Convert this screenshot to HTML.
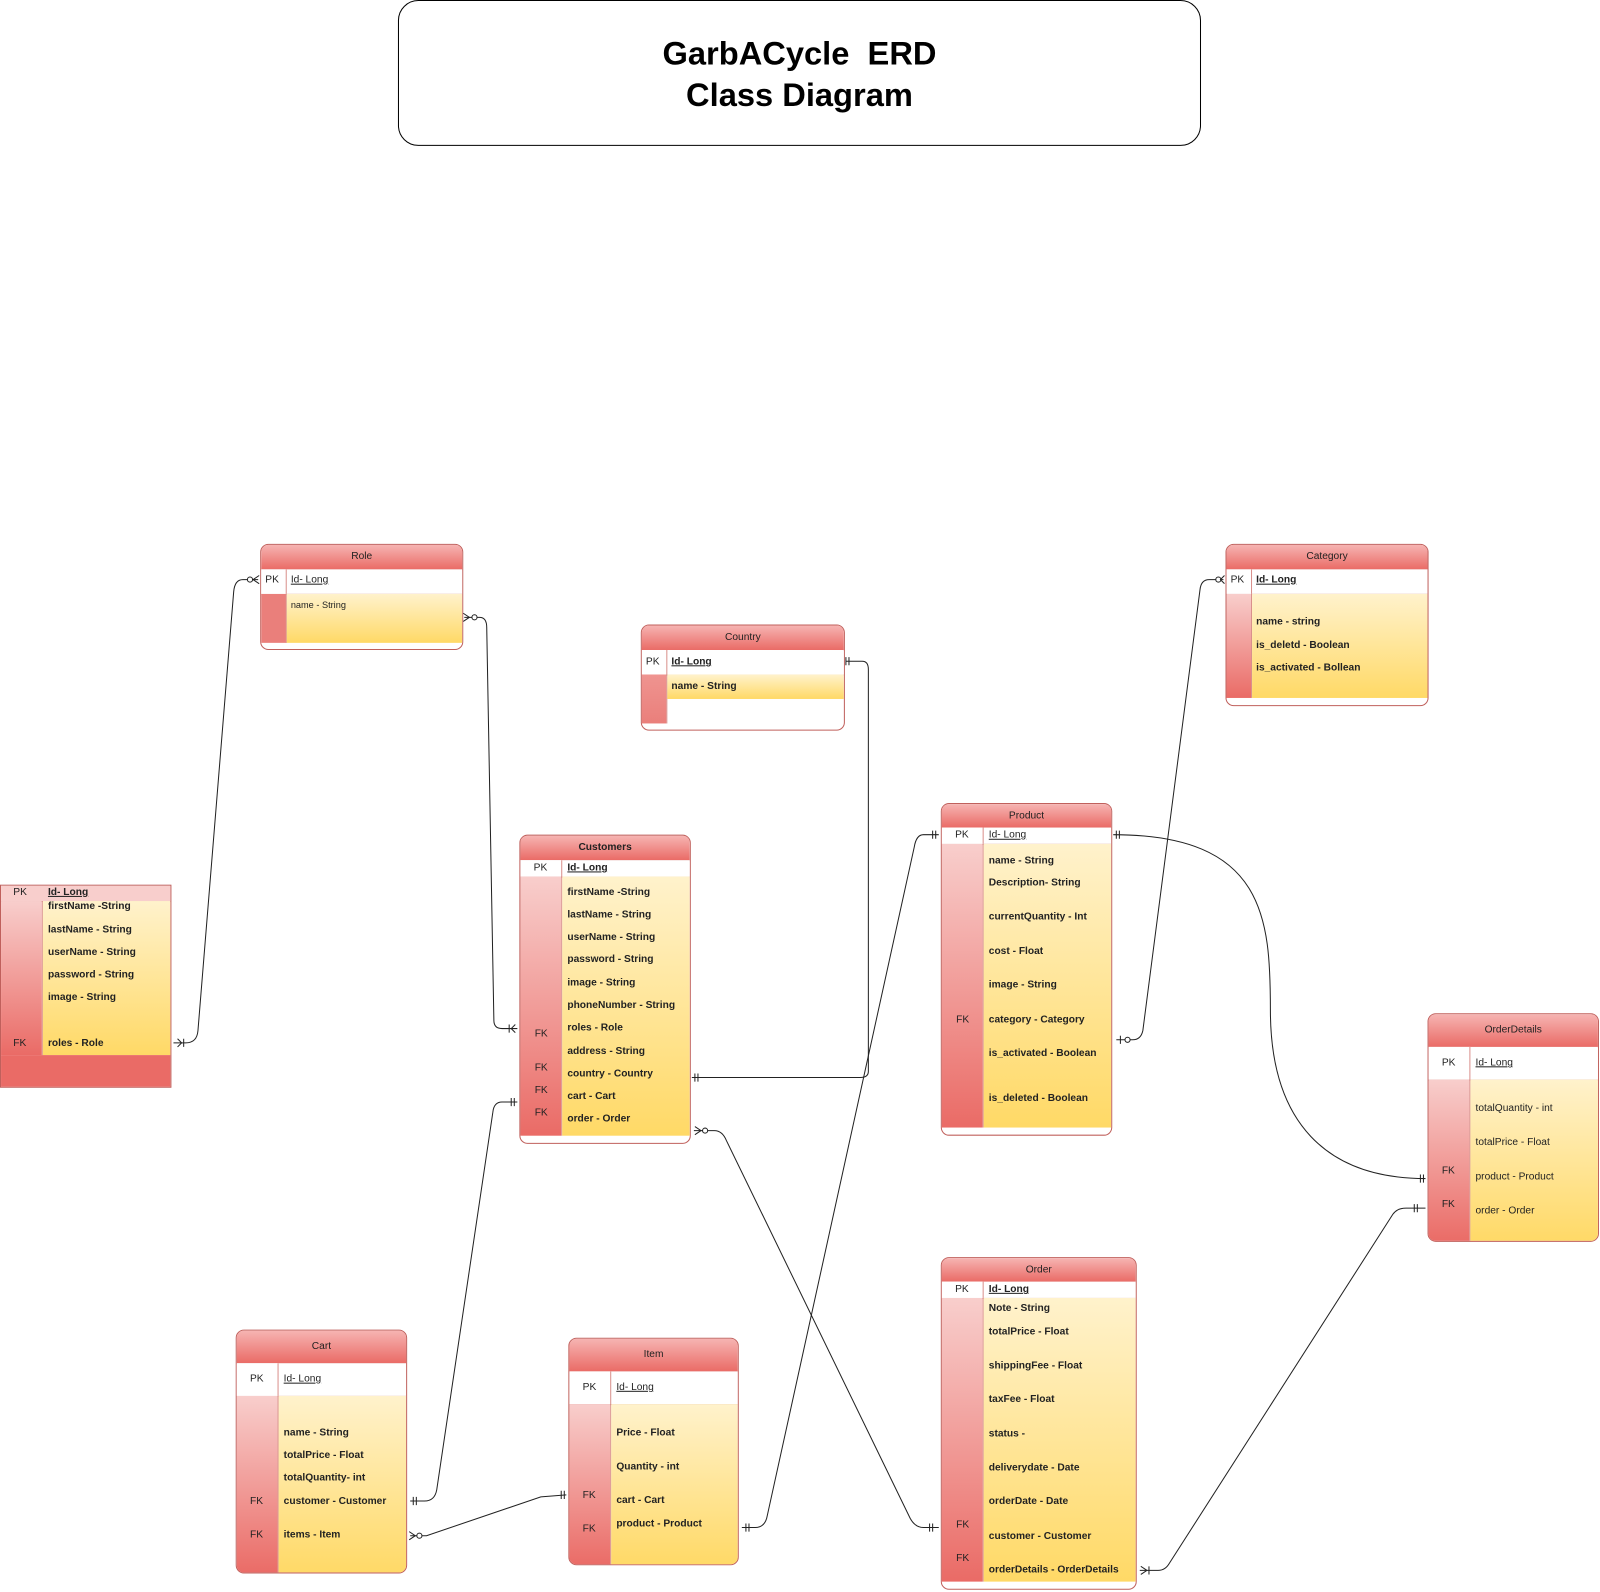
<!DOCTYPE html>
<html><head><meta charset="utf-8"><style>
body{margin:0;width:1600px;height:1591px;background:#fff;position:relative;overflow:hidden;font-family:"Liberation Sans",Arial,sans-serif}
#w{position:absolute;left:0;top:0;width:1568px;height:1560px;transform:scale(1.0204);transform-origin:0 0}
.t{position:absolute;border:1px solid #c0605c;border-radius:8px;background:#fff;overflow:hidden;box-sizing:border-box}
.h{position:absolute;left:0;right:0;top:0;background:linear-gradient(#f6b4b2,#ea6b66);border-bottom:1px solid #c0605c;text-align:center;font-size:10px;color:#222}
.p{position:absolute;left:0;right:0;background:#fff;border-bottom:1px solid #c0605c}
.l{position:absolute;left:0;background:linear-gradient(#f8cecc,#ea6b66);border-right:1px solid #d9908c}
.r{position:absolute;right:0;background:linear-gradient(#fff2cc,#ffd966)}
.x{position:absolute;font-size:10px;font-weight:bold;white-space:nowrap;line-height:12px;color:#222}
.u{text-decoration:underline}
.title{position:absolute;left:390px;top:0;width:787px;height:143px;border:1px solid #000;border-radius:20px;box-sizing:border-box;text-align:center;font-weight:bold;font-size:32px;line-height:41px;padding-top:31px}
svg{position:absolute;left:0;top:0}
</style></head><body><div id="w">
<div class="title">GarbACycle &nbsp;ERD<br>Class Diagram</div>

<!-- Role -->
<div class="t" style="left:255px;top:533px;width:199px;height:104px">
<div class="h" style="height:24px;line-height:24px">Role</div>
<div class="p" style="top:24px;height:24px"></div>
<div class="l" style="top:48px;height:48px;width:24px;background:#ea7f7b"></div>
<div class="r" style="top:48px;height:48px;left:25px"></div>
<div class="l" style="top:24px;height:24px;width:24px;background:#fff"></div>
<span class="x" style="left:4px;top:29px;font-weight:normal">PK</span>
<span class="x u" style="left:29px;top:29px;font-weight:normal">Id- Long</span>
<span class="x" style="left:29px;top:53px;font-weight:normal;font-size:9px">name - String</span>
</div>

<!-- Country -->
<div class="t" style="left:628px;top:612px;width:200px;height:104px">
<div class="h" style="height:24px;line-height:24px">Country</div>
<div class="p" style="top:24px;height:24px"></div>
<div class="l" style="top:24px;height:24px;width:24px;background:#fff"></div>
<div class="l" style="top:48px;height:48px;width:24px;background:linear-gradient(#ef9490,#ea7f7b)"></div>
<div class="r" style="top:48px;height:24px;left:25px"></div>
<span class="x" style="left:4px;top:30px;font-weight:normal">PK</span>
<span class="x u" style="left:29px;top:30px">Id- Long</span>
<span class="x" style="left:29px;top:54px">name - String</span>
</div>

<!-- Category -->
<div class="t" style="left:1201px;top:533px;width:199px;height:159px">
<div class="h" style="height:24px;line-height:24px">Category</div>
<div class="p" style="top:24px;height:24px"></div>
<div class="l" style="top:24px;height:24px;width:24px;background:#fff"></div>
<div class="l" style="top:48px;height:102px;width:24px"></div>
<div class="r" style="top:48px;height:102px;left:25px"></div>
<span class="x" style="left:4px;top:29px;font-weight:normal">PK</span>
<span class="x u" style="left:29px;top:29px">Id- Long</span>
<span class="x" style="left:29px;top:70px">name - string</span>
<span class="x" style="left:29px;top:93px">is_deletd - Boolean</span>
<span class="x" style="left:29px;top:115px">is_activated - Bollean</span>
</div>

<!-- User -->
<div class="t" style="left:0;top:867px;width:168px;height:199px;border-radius:0">
<div class="p" style="top:0;height:15px;background:#f8cecc"></div>
<div class="l" style="top:15px;height:151px;width:40px"></div>
<div class="r" style="top:15px;height:151px;left:41px"></div>
<div class="p" style="top:166px;height:33px;background:#ea6b66;border:0"></div>
<span class="x" style="left:12px;top:1px;font-weight:normal">PK</span>
<span class="x u" style="left:46px;top:1px">Id- Long</span>
<span class="x" style="left:46px;top:15px">firstName -String</span>
<span class="x" style="left:46px;top:38px">lastName - String</span>
<span class="x" style="left:46px;top:60px">userName - String</span>
<span class="x" style="left:46px;top:82px">password - String</span>
<span class="x" style="left:46px;top:104px">image - String</span>
<span class="x" style="left:12px;top:149px;font-weight:normal">FK</span>
<span class="x" style="left:46px;top:149px">roles - Role</span>
</div>

<!-- Customers -->
<div class="t" style="left:509px;top:818px;width:168px;height:303px">
<div class="h" style="height:24px;line-height:24px;font-weight:bold">Customers</div>
<div class="p" style="top:24px;height:16px"></div>
<div class="l" style="top:24px;height:16px;width:40px;background:#fff"></div>
<div class="l" style="top:40px;height:254px;width:40px"></div>
<div class="r" style="top:40px;height:254px;left:41px"></div>
<span class="x" style="left:13px;top:26px;font-weight:normal">PK</span>
<span class="x u" style="left:46px;top:26px">Id- Long</span>
<span class="x" style="left:46px;top:50px">firstName -String</span>
<span class="x" style="left:46px;top:72px">lastName - String</span>
<span class="x" style="left:46px;top:94px">userName - String</span>
<span class="x" style="left:46px;top:116px">password - String</span>
<span class="x" style="left:46px;top:139px">image - String</span>
<span class="x" style="left:46px;top:161px">phoneNumber - String</span>
<span class="x" style="left:46px;top:183px">roles - Role</span>
<span class="x" style="left:46px;top:206px">address - String</span>
<span class="x" style="left:46px;top:228px">country - Country</span>
<span class="x" style="left:46px;top:250px">cart - Cart</span>
<span class="x" style="left:46px;top:272px">order - Order</span>
<span class="x" style="left:14px;top:189px;font-weight:normal">FK</span>
<span class="x" style="left:14px;top:222px;font-weight:normal">FK</span>
<span class="x" style="left:14px;top:244px;font-weight:normal">FK</span>
<span class="x" style="left:14px;top:266px;font-weight:normal">FK</span>
</div>

<!-- Product -->
<div class="t" style="left:922px;top:787px;width:168px;height:326px">
<div class="h" style="height:23px;line-height:23px">Product</div>
<div class="p" style="top:23px;height:16px"></div>
<div class="l" style="top:23px;height:16px;width:40px;background:#fff"></div>
<div class="l" style="top:39px;height:278px;width:40px"></div>
<div class="r" style="top:39px;height:278px;left:41px"></div>
<span class="x" style="left:13px;top:25px;font-weight:normal">PK</span>
<span class="x u" style="left:46px;top:25px;font-weight:normal">Id- Long</span>
<span class="x" style="left:46px;top:50px">name - String</span>
<span class="x" style="left:46px;top:72px">Description- String</span>
<span class="x" style="left:46px;top:105px">currentQuantity - Int</span>
<span class="x" style="left:46px;top:139px">cost - Float</span>
<span class="x" style="left:46px;top:172px">image - String</span>
<span class="x" style="left:46px;top:206px">category - Category</span>
<span class="x" style="left:46px;top:239px">is_activated - Boolean</span>
<span class="x" style="left:46px;top:283px">is_deleted - Boolean</span>
<span class="x" style="left:14px;top:206px;font-weight:normal">FK</span>
</div>

<!-- OrderDetails -->
<div class="t" style="left:1399px;top:993px;width:168px;height:224px">
<div class="h" style="height:32px;line-height:32px">OrderDetails</div>
<div class="p" style="top:32px;height:32px"></div>
<div class="l" style="top:32px;height:32px;width:40px;background:#fff"></div>
<div class="l" style="top:64px;height:160px;width:40px"></div>
<div class="r" style="top:64px;height:160px;left:41px"></div>
<span class="x" style="left:13px;top:42px;font-weight:normal">PK</span>
<span class="x u" style="left:46px;top:42px;font-weight:normal">Id- Long</span>
<span class="x" style="left:46px;top:87px;font-weight:normal">totalQuantity - int</span>
<span class="x" style="left:46px;top:120px;font-weight:normal">totalPrice - Float</span>
<span class="x" style="left:46px;top:154px;font-weight:normal">product - Product</span>
<span class="x" style="left:46px;top:187px;font-weight:normal">order - Order</span>
<span class="x" style="left:13px;top:148px;font-weight:normal">FK</span>
<span class="x" style="left:13px;top:181px;font-weight:normal">FK</span>
</div>

<!-- Order -->
<div class="t" style="left:922px;top:1232px;width:192px;height:326px">
<div class="h" style="height:23px;line-height:23px">Order</div>
<div class="p" style="top:23px;height:16px"></div>
<div class="l" style="top:23px;height:16px;width:40px;background:#fff"></div>
<div class="l" style="top:39px;height:278px;width:40px"></div>
<div class="r" style="top:39px;height:278px;left:41px"></div>
<span class="x" style="left:13px;top:25px;font-weight:normal">PK</span>
<span class="x u" style="left:46px;top:25px">Id- Long</span>
<span class="x" style="left:46px;top:44px">Note - String</span>
<span class="x" style="left:46px;top:67px">totalPrice - Float</span>
<span class="x" style="left:46px;top:100px">shippingFee - Float</span>
<span class="x" style="left:46px;top:133px">taxFee - Float</span>
<span class="x" style="left:46px;top:167px">status -</span>
<span class="x" style="left:46px;top:200px">deliverydate - Date</span>
<span class="x" style="left:46px;top:233px">orderDate - Date</span>
<span class="x" style="left:46px;top:267px">customer - Customer</span>
<span class="x" style="left:46px;top:300px">orderDetails - OrderDetails</span>
<span class="x" style="left:14px;top:256px;font-weight:normal">FK</span>
<span class="x" style="left:14px;top:289px;font-weight:normal">FK</span>
</div>

<!-- Cart -->
<div class="t" style="left:231px;top:1303px;width:168px;height:239px">
<div class="h" style="height:32px;line-height:32px">Cart</div>
<div class="p" style="top:32px;height:32px"></div>
<div class="l" style="top:32px;height:32px;width:40px;background:#fff"></div>
<div class="l" style="top:64px;height:175px;width:40px"></div>
<div class="r" style="top:64px;height:175px;left:41px"></div>
<span class="x" style="left:13px;top:42px;font-weight:normal">PK</span>
<span class="x u" style="left:46px;top:42px;font-weight:normal">Id- Long</span>
<span class="x" style="left:46px;top:95px">name - String</span>
<span class="x" style="left:46px;top:117px">totalPrice - Float</span>
<span class="x" style="left:46px;top:139px">totalQuantity- int</span>
<span class="x" style="left:46px;top:162px">customer - Customer</span>
<span class="x" style="left:46px;top:195px">items - Item</span>
<span class="x" style="left:13px;top:162px;font-weight:normal">FK</span>
<span class="x" style="left:13px;top:195px;font-weight:normal">FK</span>
</div>

<!-- Item -->
<div class="t" style="left:557px;top:1311px;width:167px;height:223px">
<div class="h" style="height:32px;line-height:32px">Item</div>
<div class="p" style="top:32px;height:32px"></div>
<div class="l" style="top:32px;height:32px;width:40px;background:#fff"></div>
<div class="l" style="top:64px;height:159px;width:40px"></div>
<div class="r" style="top:64px;height:159px;left:41px"></div>
<span class="x" style="left:13px;top:42px;font-weight:normal">PK</span>
<span class="x u" style="left:46px;top:42px;font-weight:normal">Id- Long</span>
<span class="x" style="left:46px;top:87px">Price - Float</span>
<span class="x" style="left:46px;top:120px">Quantity - int</span>
<span class="x" style="left:46px;top:153px">cart - Cart</span>
<span class="x" style="left:46px;top:176px">product - Product</span>
<span class="x" style="left:13px;top:148px;font-weight:normal">FK</span>
<span class="x" style="left:13px;top:181px;font-weight:normal">FK</span>
</div>

<svg width="1568" height="1560" viewBox="0 0 1568 1560" fill="none" stroke="#222" stroke-width="1">
<path d="M253 568 L238 568 Q230 568 229 580 L194 1010 Q193 1022 182 1022 L170 1022"/>
<path d="M455 605 L470 605 Q477 605 477 615 L484 1000 Q484 1008 492 1008 L507 1008"/>
<path d="M829 648 L845 648 Q851 648 851 656 L851 1050 Q851 1056 843 1056 L678 1056"/>
<path d="M1199 568 L1185 568 Q1177 568 1176 578 L1120 1010 Q1118 1019 1110 1019 L1094 1019"/>
<path d="M1091 818 C1240 818 1245 900 1245 990 C1245 1100 1300 1155 1397 1155"/>
<path d="M920 818 L905 818 Q898 818 896 830 L752 1485 Q750 1497 740 1497 L727 1497"/>
<path d="M680 1108 L700 1108 Q708 1108 712 1118 L892 1488 Q897 1497 905 1497 L920 1497"/>
<path d="M507 1080 L492 1080 Q484 1080 483 1090 L428 1460 Q426 1471 416 1471 L402 1471"/>
<path d="M402 1505 L418 1505 L530 1467 L555 1465"/>
<path d="M1117 1539 L1135 1539 Q1142 1539 1146 1532 L1365 1190 Q1369 1184 1378 1184 L1397 1184"/>
<circle cx="245" cy="568" r="2.5" fill="#fff"/><path d="M254 564 L248 568 L254 572"/>
<circle cx="465" cy="605" r="2.5" fill="#fff"/><path d="M454 601 L460 605 L454 609"/>
<path d="M174 1018 L178 1022 L174 1026 M180 1018 L180 1026"/>
<path d="M505 1004 L501 1008 L505 1012 M499 1004 L499 1012"/>
<path d="M829 644 L829 652 M832 644 L832 652"/>
<path d="M681 1052 L681 1060 M684 1052 L684 1060"/>
<circle cx="1194" cy="568" r="2.5" fill="#fff"/><path d="M1200 564 L1196 568 L1200 572"/>
<circle cx="1105" cy="1019" r="2.5" fill="#fff"/><path d="M1098 1015 L1098 1023"/>
<path d="M1094 814 L1094 822 M1097 814 L1097 822"/>
<path d="M1392 1151 L1392 1159 M1395 1151 L1395 1159"/>
<path d="M914 814 L914 822 M917 814 L917 822"/>
<path d="M731 1493 L731 1501 M734 1493 L734 1501"/>
<circle cx="691" cy="1108" r="2.5" fill="#fff"/><path d="M681 1104 L687 1108 L681 1112"/>
<path d="M911 1493 L911 1501 M914 1493 L914 1501"/>
<path d="M501 1076 L501 1084 M504 1076 L504 1084"/>
<path d="M405 1467 L405 1475 M408 1467 L408 1475"/>
<circle cx="411" cy="1505" r="2.5" fill="#fff"/><path d="M401 1501 L407 1505 L401 1509"/>
<path d="M550 1461 L550 1469 M553 1461 L553 1469"/>
<path d="M1118 1535 L1124 1539 L1118 1543 M1126 1535 L1126 1543"/>
<path d="M1386 1180 L1386 1188 M1389 1180 L1389 1188"/>
</svg>
</div></body></html>
